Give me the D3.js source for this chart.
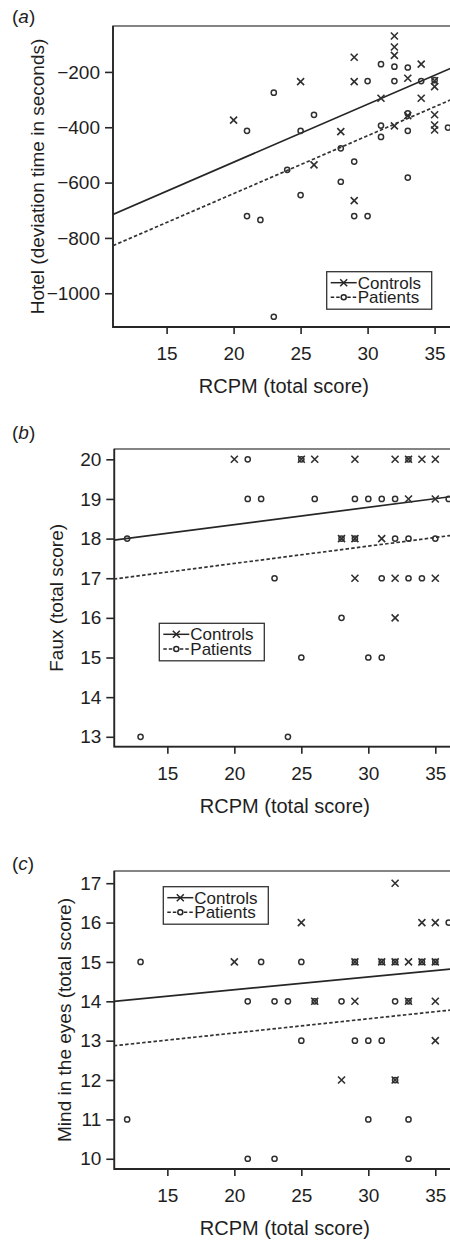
<!DOCTYPE html>
<html>
<head>
<meta charset="utf-8">
<script src="https://cdn.jsdelivr.net/npm/d3@7"></script>
<style>
    body { margin: 0; background: #fff; }
    svg text { font-family: "Liberation Sans", Arial, sans-serif; fill: #1e1e1e; }
</style>
</head>
<body>
<div id="chart"></div>
<script>
// x ticks shared by the three panels (RCPM total score)
const xTicks = [15, 20, 25, 30, 35];

// (a) Hotel task - deviation time in seconds
const hotelTicks = [-1000, -800, -600, -400, -200];
const hotelControls = [[20, -374], [25, -235], [26, -536], [28, -416], [29, -147], [29, -235], [29, -665],
    [31, -295], [32, -70], [32, -110], [32, -140], [32, -395], [33, -223], [33, -358], [34, -172],
    [34, -295], [35, -232], [35, -253], [35, -355], [35, -392], [35, -410]];
const hotelPatients = [[21, -413], [21, -721], [22, -735], [23, -275], [23, -1085], [24, -554], [25, -413],
    [25, -645], [26, -355], [28, -476], [28, -597], [29, -524], [29, -721], [30, -233], [30, -721],
    [31, -172], [31, -394], [31, -435], [32, -181], [32, -233], [33, -184], [33, -350], [33, -413],
    [33, -582], [34, -233], [35, -230], [36, -401]];
const hotelFitControls = [[11, -715], [36.2, -187]];
const hotelFitPatients = [[11, -828], [36.2, -301]];

// (b) Faux pas - total score
const fauxTicks = [13, 14, 15, 16, 17, 18, 19, 20];
const fauxControls = [[20, 20], [25, 20], [26, 20], [29, 20], [32, 20], [33, 20], [34, 20], [35, 20],
    [33, 19], [35, 19], [28, 18], [29, 18], [31, 18], [29, 17], [32, 17], [35, 17], [32, 16]];
const fauxPatients = [[21, 20], [25, 20], [33, 20], [21, 19], [22, 19], [26, 19], [29, 19], [30, 19],
    [31, 19], [32, 19], [36, 19], [12, 18], [28, 18], [29, 18], [32, 18], [33, 18], [35, 18], [23, 17],
    [31, 17], [33, 17], [34, 17], [28, 16], [25, 15], [30, 15], [31, 15], [13, 13], [24, 13]];
const fauxFitControls = [[11, 17.96], [36.2, 19.06]];
const fauxFitPatients = [[11, 16.98], [36.2, 18.08]];

// (c) Mind in the eyes - total score
const eyesTicks = [10, 11, 12, 13, 14, 15, 16, 17];
const eyesControls = [[32, 17], [25, 16], [34, 16], [35, 16], [20, 15], [29, 15], [31, 15], [32, 15],
    [33, 15], [34, 15], [35, 15], [26, 14], [29, 14], [33, 14], [35, 14], [35, 13], [28, 12], [32, 12]];
const eyesPatients = [[36, 16], [13, 15], [22, 15], [25, 15], [29, 15], [31, 15], [32, 15], [34, 15],
    [35, 15], [21, 14], [23, 14], [24, 14], [26, 14], [28, 14], [32, 14], [33, 14], [25, 13], [29, 13],
    [30, 13], [31, 13], [32, 12], [12, 11], [30, 11], [33, 11], [21, 10], [23, 10], [33, 10]];
const eyesFitControls = [[11, 14.0], [36.2, 14.82]];
const eyesFitPatients = [[11, 12.87], [36.2, 13.78]];

const legendLabels = ["Controls", "Patients"];
const xTitle = "RCPM (total score)";

const crossPath = "M-3.5,-3.5L3.5,3.5M-3.5,3.5L3.5,-3.5";
const ink = "#262626";


class scatterPanel {

    constructor(svg, id, config) {
        this.svg = svg;
        this.id = id;
        this.cfg = config;

        this.initVis();
    }

    initVis() {
        let vis = this;
        let c = vis.cfg;

        vis.g = vis.svg.append("g").attr("class", "panel");

        // scales
        vis.x = d3.scaleLinear().domain(c.xDomain).range([c.left, c.right]);
        vis.y = d3.scaleLinear().domain(c.yDomain).range([c.bottom, c.top]);

        // clip everything inside the frame
        vis.svg.append("clipPath")
            .attr("id", "clip-" + vis.id)
            .append("rect")
            .attr("x", c.left)
            .attr("y", c.top)
            .attr("width", c.right - c.left)
            .attr("height", c.bottom - c.top);

        // axes
        vis.xAxis = d3.axisBottom(vis.x).tickValues(xTicks).tickSize(7).tickPadding(13);
        vis.yAxis = d3.axisLeft(vis.y).tickValues(c.yTicks).tickSize(8).tickPadding(5)
            .tickFormat(d3.format("d"));

        vis.xAxisG = vis.g.append("g")
            .attr("transform", `translate(0, ${c.bottom})`)
            .call(vis.xAxis);
        vis.yAxisG = vis.g.append("g")
            .attr("transform", `translate(${c.left}, 0)`)
            .call(vis.yAxis);

        [vis.xAxisG, vis.yAxisG].forEach(a => {
            a.attr("font-family", null).attr("font-size", null);
            a.select(".domain").remove();
            a.selectAll(".tick line").attr("stroke", ink).attr("stroke-width", 1.6);
            a.selectAll(".tick text").attr("font-size", 19).attr("fill", "#1e1e1e");
        });

        // frame
        vis.g.append("rect")
            .attr("x", c.left)
            .attr("y", c.top)
            .attr("width", c.right - c.left)
            .attr("height", c.bottom - c.top)
            .attr("fill", "none")
            .attr("stroke", "#444")
            .attr("stroke-width", 1.3);
        vis.g.append("path")
            .attr("d", `M${c.left},${c.top}V${c.bottom}H${c.right}`)
            .attr("fill", "none")
            .attr("stroke", ink)
            .attr("stroke-width", 1.8);

        // titles
        vis.g.append("text")
            .attr("x", (c.left + c.right) / 2)
            .attr("y", c.bottom + 66)
            .attr("text-anchor", "middle")
            .attr("font-size", 20)
            .text(xTitle);

        vis.g.append("text")
            .attr("transform", `translate(${c.yTitleX}, ${(c.top + c.bottom) / 2}) rotate(-90)`)
            .attr("text-anchor", "middle")
            .attr("font-size", 19)
            .text(c.yTitle);

        let lab = vis.g.append("text")
            .attr("x", 12)
            .attr("y", c.labelY)
            .attr("font-size", 19);
        lab.append("tspan").text("(");
        lab.append("tspan").attr("font-style", "italic").text(c.letter);
        lab.append("tspan").text(")");

        vis.plot = vis.g.append("g").attr("clip-path", `url(#clip-${vis.id})`);

        vis.updateVis();
    }

    updateVis() {
        let vis = this;
        let c = vis.cfg;

        let line = d3.line()
            .x(d => vis.x(d[0]))
            .y(d => vis.y(d[1]));

        // regression lines
        vis.plot.append("path")
            .datum(c.fitControls)
            .attr("d", line)
            .attr("fill", "none")
            .attr("stroke", ink)
            .attr("stroke-width", 1.7);

        vis.plot.append("path")
            .datum(c.fitPatients)
            .attr("d", line)
            .attr("fill", "none")
            .attr("stroke", "#333")
            .attr("stroke-width", 1.7)
            .attr("stroke-dasharray", "3.5,2.2");

        // patients (circles)
        vis.plot.selectAll(".patient")
            .data(c.patients)
            .join("circle")
            .attr("class", "patient")
            .attr("cx", d => vis.x(d[0]))
            .attr("cy", d => vis.y(d[1]))
            .attr("r", 2.6)
            .attr("fill", "none")
            .attr("stroke", "#303030")
            .attr("stroke-width", 1.5);

        // controls (crosses)
        vis.plot.selectAll(".control")
            .data(c.controls)
            .join("path")
            .attr("class", "control")
            .attr("d", crossPath)
            .attr("transform", d => `translate(${vis.x(d[0])}, ${vis.y(d[1])})`)
            .attr("fill", "none")
            .attr("stroke", "#303030")
            .attr("stroke-width", 1.6);

        // legend
        let leg = vis.g.append("g")
            .attr("transform", `translate(${c.legend[0]}, ${c.legend[1]})`);

        leg.append("rect")
            .attr("width", 105)
            .attr("height", 37.5)
            .attr("fill", "#fff")
            .attr("stroke", "#333")
            .attr("stroke-width", 1.3);

        let legText = leg.append("text").attr("font-size", 17);

        legendLabels.forEach((name, i) => {
            let cy = 11 + i * 14.6;
            leg.append("line")
                .attr("x1", 4).attr("x2", 30)
                .attr("y1", cy).attr("y2", cy)
                .attr("stroke", ink)
                .attr("stroke-width", 1.5)
                .attr("stroke-dasharray", i === 0 ? null : "3.5,2");
            if (i === 0) {
                leg.append("path")
                    .attr("d", crossPath)
                    .attr("transform", `translate(17, ${cy})`)
                    .attr("fill", "none").attr("stroke", ink).attr("stroke-width", 1.5);
            } else {
                leg.append("circle")
                    .attr("cx", 17).attr("cy", cy).attr("r", 2.5)
                    .attr("fill", "#fff").attr("stroke", ink).attr("stroke-width", 1.5);
            }
            legText.append("tspan")
                .attr("x", 31)
                .attr("y", cy + 6.2)
                .text(name);
        });
    }
}


let svg = d3.select("#chart").append("svg")
    .attr("width", 450)
    .attr("height", 1240);

new scatterPanel(svg, "a", {
    letter: "a", labelY: 23,
    left: 113, right: 454.7, top: 26, bottom: 327,
    xDomain: [11, 36.5], yDomain: [-1122, -34], yTicks: hotelTicks,
    yTitle: "Hotel (deviation time in seconds)", yTitleX: 44,
    controls: hotelControls, patients: hotelPatients,
    fitControls: hotelFitControls, fitPatients: hotelFitPatients,
    legend: [326.7, 271.7]
});

new scatterPanel(svg, "b", {
    letter: "b", labelY: 439,
    left: 114.3, right: 455.4, top: 449, bottom: 746.7,
    xDomain: [11.04, 36.5], yDomain: [12.75, 20.26], yTicks: fauxTicks,
    yTitle: "Faux (total score)", yTitleX: 63,
    controls: fauxControls, patients: fauxPatients,
    fitControls: fauxFitControls, fitPatients: fauxFitPatients,
    legend: [159.3, 623.3]
});

new scatterPanel(svg, "c", {
    letter: "c", labelY: 870,
    left: 114.3, right: 455.4, top: 871, bottom: 1169,
    xDomain: [11.04, 36.5], yDomain: [9.74, 17.31], yTicks: eyesTicks,
    yTitle: "Mind in the eyes (total score)", yTitleX: 71,
    controls: eyesControls, patients: eyesPatients,
    fitControls: eyesFitControls, fitPatients: eyesFitPatients,
    legend: [163.3, 886.7]
});
</script>
</body>
</html>
